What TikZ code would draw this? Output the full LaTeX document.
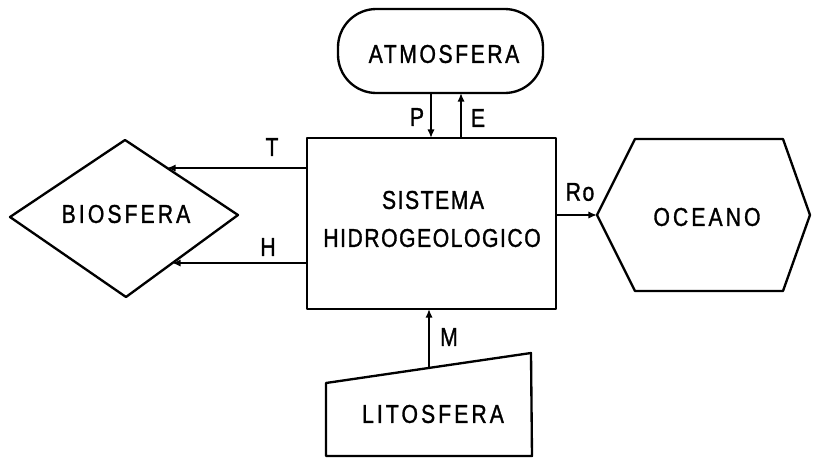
\documentclass[tikz,border=0pt]{standalone}
\usepackage{fontspec}
\setmainfont{Liberation Sans}[FakeStretch=0.82,LetterSpace=6,FakeBold=1.2]
\newfontfamily\wideletters{Liberation Sans}[FakeStretch=0.82,LetterSpace=12,FakeBold=1.2]
\newfontfamily\midletters{Liberation Sans}[FakeStretch=0.82,LetterSpace=10,FakeBold=1.2]
\usetikzlibrary{arrows.meta}
\begin{document}
\begin{tikzpicture}[x=0.3mm,y=-0.3mm,
  outline/.style={line width=2pt, line join=round},
  flow/.style={line width=1.5pt, -{Latex[length=2.6mm,width=2.2mm]}},
  lbl/.style={font=\fontsize{22}{25}\selectfont, inner sep=0pt},
  widelbl/.style={font=\wideletters\fontsize{22}{25}\selectfont, inner sep=0pt},
  midlbl/.style={font=\midletters\fontsize{22}{25}\selectfont, inner sep=0pt},
]
\useasboundingbox (0,0) rectangle (813,460);

% central hydrogeological system
\node[draw, outline, minimum width=74.7mm, minimum height=51.3mm, inner sep=0pt] (sys) at (431.5,223.5) {};
\node[lbl] (sys1) at (433,200) {SISTEMA};
\node[lbl] (sys2) at (432,238) {HIDROGEOLOGICO};

% atmosphere
\node[draw, outline, rounded corners=11.5mm, minimum width=61.5mm, minimum height=25.2mm, inner sep=0pt] (atm) at (440.5,51) {};
\node[midlbl] (atmt) at (444,54) {ATMOSFERA};

% biosphere
\coordinate (bioW) at (10,217);
\coordinate (bioN) at (125,140);
\coordinate (bioE) at (238,215);
\coordinate (bioS) at (126,297);
\draw[outline] (bioW) -- (bioN) -- (bioE) -- (bioS) -- cycle;
\node[widelbl] (biot) at (126,214) {BIOSFERA};

% ocean
\coordinate (ocW) at (597,215);
\coordinate (ocNW) at (635,139);
\coordinate (ocNE) at (783,139);
\coordinate (ocE) at (810,215);
\coordinate (ocSE) at (783,291);
\coordinate (ocSW) at (635,291);
\draw[outline] (ocW) -- (ocNW) -- (ocNE) -- (ocE) -- (ocSE) -- (ocSW) -- cycle;
\node[widelbl] (oct) at (707,217) {OCEANO};

% lithosphere
\coordinate (litNW) at (326,383);
\coordinate (litNE) at (531,353);
\coordinate (litSE) at (532,456);
\coordinate (litSW) at (326,456);
\draw[outline] (litNW) -- (litNE) -- (litSE) -- (litSW) -- cycle;
\node[widelbl] (litt) at (433,414) {LITOSFERA};

% flow end points
\coordinate (pA) at (431,93);  \coordinate (pB) at (431,138);
\coordinate (eA) at (461,138); \coordinate (eB) at (461,93);
\coordinate (tA) at (307,168); \coordinate (tB) at (167,168);
\coordinate (hA) at (307,263); \coordinate (hB) at (172,263);
\coordinate (rA) at (556,215); \coordinate (rB) at (597,215);
\coordinate (mA) at (429,368); \coordinate (mB) at (429,309);

% flows
\draw[flow] (pA) -- (pB);
\draw[flow] (eA) -- (eB);
\draw[flow] (tA) -- (tB);
\draw[flow] (hA) -- (hB);
\draw[flow] (rA) -- (rB);
\draw[flow] (mA) -- (mB);

% flow labels
\node[lbl] (lp) at (417,117) {P};
\node[lbl] (le) at (478,118) {E};
\node[lbl] (lt) at (272,147) {T};
\node[lbl] (lh) at (268,247) {H};
\node[lbl] (lr) at (580,192) {Ro};
\node[lbl] (lm) at (449,337) {M};
\end{tikzpicture}
\end{document}
